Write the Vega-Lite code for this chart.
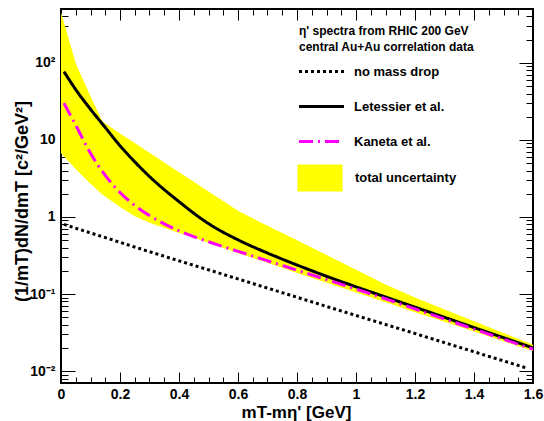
{
  "$schema": "https://vega.github.io/schema/vega-lite/v6.json",
  "width": 472,
  "height": 374,
  "autosize": {"type": "none"},
  "padding": {"left": 61, "top": 9, "right": 11, "bottom": 38},
  "background": "white",
  "config": {
    "font": "Liberation Sans",
    "view": {"stroke": "#000000", "strokeWidth": 2},
    "axis": {"grid": false, "domain": false, "tickColor": "#000000", "tickWidth": 1, "labelColor": "#000000", "titleColor": "#000000", "labelOverlap": false, "labelFlush": false, "labelBound": false}
  },
  "datasets": {
    "band": [
      {"x": 0, "hi": 450, "lo": 6.7, "s": "total uncertainty"},
      {"x": 0.05, "hi": 98, "lo": 4.2, "s": "total uncertainty"},
      {"x": 0.1, "hi": 37, "lo": 2.7, "s": "total uncertainty"},
      {"x": 0.14, "hi": 17.5, "lo": 1.95, "s": "total uncertainty"},
      {"x": 0.2, "hi": 12.1, "lo": 1.35, "s": "total uncertainty"},
      {"x": 0.25, "hi": 9.1, "lo": 1.02, "s": "total uncertainty"},
      {"x": 0.3, "hi": 6.8, "lo": 0.84, "s": "total uncertainty"},
      {"x": 0.35, "hi": 5.1, "lo": 0.72, "s": "total uncertainty"},
      {"x": 0.4, "hi": 3.8, "lo": 0.62, "s": "total uncertainty"},
      {"x": 0.45, "hi": 2.86, "lo": 0.54, "s": "total uncertainty"},
      {"x": 0.5, "hi": 2.14, "lo": 0.46, "s": "total uncertainty"},
      {"x": 0.6, "hi": 1.2, "lo": 0.34, "s": "total uncertainty"},
      {"x": 0.7, "hi": 0.77, "lo": 0.255, "s": "total uncertainty"},
      {"x": 0.8, "hi": 0.5, "lo": 0.188, "s": "total uncertainty"},
      {"x": 0.9, "hi": 0.32, "lo": 0.14, "s": "total uncertainty"},
      {"x": 1.0, "hi": 0.207, "lo": 0.105, "s": "total uncertainty"},
      {"x": 1.1, "hi": 0.133, "lo": 0.078, "s": "total uncertainty"},
      {"x": 1.2, "hi": 0.09, "lo": 0.058, "s": "total uncertainty"},
      {"x": 1.3, "hi": 0.063, "lo": 0.0435, "s": "total uncertainty"},
      {"x": 1.4, "hi": 0.0444, "lo": 0.0325, "s": "total uncertainty"},
      {"x": 1.5, "hi": 0.0313, "lo": 0.0243, "s": "total uncertainty"},
      {"x": 1.6, "hi": 0.022, "lo": 0.0182, "s": "total uncertainty"}
    ],
    "nomass": [
      {"x": 0.01, "y": 0.8, "s": "no mass drop"},
      {"x": 0.3, "y": 0.354, "s": "no mass drop"},
      {"x": 0.6, "y": 0.157, "s": "no mass drop"},
      {"x": 0.9, "y": 0.069, "s": "no mass drop"},
      {"x": 1.2, "y": 0.0307, "s": "no mass drop"},
      {"x": 1.58, "y": 0.0109, "s": "no mass drop"}
    ],
    "letessier": [
      {"x": 0.01, "y": 77, "s": "Letessier et al."},
      {"x": 0.05, "y": 45, "s": "Letessier et al."},
      {"x": 0.1, "y": 25, "s": "Letessier et al."},
      {"x": 0.15, "y": 14.5, "s": "Letessier et al."},
      {"x": 0.2, "y": 8.4, "s": "Letessier et al."},
      {"x": 0.25, "y": 5.2, "s": "Letessier et al."},
      {"x": 0.3, "y": 3.35, "s": "Letessier et al."},
      {"x": 0.4, "y": 1.58, "s": "Letessier et al."},
      {"x": 0.5, "y": 0.82, "s": "Letessier et al."},
      {"x": 0.6, "y": 0.505, "s": "Letessier et al."},
      {"x": 0.7, "y": 0.34, "s": "Letessier et al."},
      {"x": 0.8, "y": 0.238, "s": "Letessier et al."},
      {"x": 0.9, "y": 0.17, "s": "Letessier et al."},
      {"x": 1.0, "y": 0.124, "s": "Letessier et al."},
      {"x": 1.1, "y": 0.0915, "s": "Letessier et al."},
      {"x": 1.2, "y": 0.0675, "s": "Letessier et al."},
      {"x": 1.3, "y": 0.0498, "s": "Letessier et al."},
      {"x": 1.4, "y": 0.0367, "s": "Letessier et al."},
      {"x": 1.5, "y": 0.0271, "s": "Letessier et al."},
      {"x": 1.6, "y": 0.02, "s": "Letessier et al."}
    ],
    "kaneta": [
      {"x": 0.01, "y": 30, "s": "Kaneta et al."},
      {"x": 0.05, "y": 15.5, "s": "Kaneta et al."},
      {"x": 0.1, "y": 6.7, "s": "Kaneta et al."},
      {"x": 0.15, "y": 3.46, "s": "Kaneta et al."},
      {"x": 0.2, "y": 2.08, "s": "Kaneta et al."},
      {"x": 0.25, "y": 1.41, "s": "Kaneta et al."},
      {"x": 0.3, "y": 1.045, "s": "Kaneta et al."},
      {"x": 0.4, "y": 0.66, "s": "Kaneta et al."},
      {"x": 0.5, "y": 0.477, "s": "Kaneta et al."},
      {"x": 0.6, "y": 0.358, "s": "Kaneta et al."},
      {"x": 0.7, "y": 0.27, "s": "Kaneta et al."},
      {"x": 0.8, "y": 0.204, "s": "Kaneta et al."},
      {"x": 0.9, "y": 0.154, "s": "Kaneta et al."},
      {"x": 1.0, "y": 0.116, "s": "Kaneta et al."},
      {"x": 1.1, "y": 0.0865, "s": "Kaneta et al."},
      {"x": 1.2, "y": 0.064, "s": "Kaneta et al."},
      {"x": 1.3, "y": 0.0473, "s": "Kaneta et al."},
      {"x": 1.4, "y": 0.035, "s": "Kaneta et al."},
      {"x": 1.5, "y": 0.0259, "s": "Kaneta et al."},
      {"x": 1.6, "y": 0.0192, "s": "Kaneta et al."}
    ]
  },
  "resolve": {"axis": {"x": "independent", "y": "independent"}},
  "layer": [
    {
      "data": {"name": "band"},
      "mark": {"type": "area", "opacity": 1},
      "encoding": {
        "x": {
          "field": "x", "type": "quantitative",
          "scale": {"domain": [0, 1.6], "nice": false, "zero": false},
          "axis": {
            "orient": "bottom",
            "values": [0, 0.2, 0.4, 0.6, 0.8, 1, 1.2, 1.4, 1.6],
            "offset": -11,
            "tickSize": 11,
            "labelExpr": "'' + datum.value",
            "labelPadding": 4,
            "labelFontSize": 14,
            "labelFontWeight": "bold",
            "title": "mT-mη' [GeV]",
            "titleFontSize": 17,
            "titleFontWeight": "bold",
            "titleX": 235,
            "titleY": 45,
            "titleBaseline": "alphabetic"
          }
        },
        "y": {
          "field": "hi", "type": "quantitative",
          "scale": {"type": "log", "domain": [0.007, 500], "nice": false},
          "axis": {
            "orient": "left",
            "values": [0.01, 0.1, 1, 10, 100],
            "offset": -14,
            "tickSize": 14,
            "labelExpr": "datum.value == 0.01 ? '10⁻²' : datum.value == 0.1 ? '10⁻¹' : datum.value == 1 ? '1' : datum.value == 10 ? '10' : '10²'",
            "labelPadding": 6,
            "labelFontSize": 14,
            "labelFontWeight": "bold",
            "title": "(1/mT)dN/dmT [c²/GeV²]",
            "titleFontSize": 18,
            "titleFontWeight": "bold",
            "titleX": -53,
            "titleY": 192,
            "titleBaseline": "middle"
          }
        },
        "y2": {"field": "lo"},
        "fill": {
          "field": "s", "type": "nominal",
          "scale": {"domain": ["total uncertainty"], "range": ["#ffff00"]},
          "legend": {
            "orient": "none",
            "legendX": 238,
            "legendY": 159,
            "title": null,
            "labelFontSize": 13,
            "labelFontWeight": "bold",
            "labelColor": "#000000",
            "labelOffset": 25,
            "symbolType": "M-2.25,-1.35H2.25V1.35H-2.25Z",
            "symbolSize": 400,
            "symbolOffset": 11,
            "symbolStrokeWidth": 0,
            "symbolOpacity": 1
          }
        }
      }
    },
    {
      "data": {"name": "nomass"},
      "mark": {"type": "line", "strokeWidth": 3},
      "encoding": {
        "x": {
          "field": "x", "type": "quantitative",
          "axis": {
            "orient": "bottom",
            "values": [0.05, 0.1, 0.15, 0.25, 0.3, 0.35, 0.45, 0.5, 0.55, 0.65, 0.7, 0.75, 0.85, 0.9, 0.95, 1.05, 1.1, 1.15, 1.25, 1.3, 1.35, 1.45, 1.5, 1.55],
            "offset": -6,
            "tickSize": 6,
            "labels": false,
            "title": null
          }
        },
        "y": {
          "field": "y", "type": "quantitative",
          "axis": {
            "orient": "left",
            "values": [0.007, 0.008, 0.009, 0.02, 0.03, 0.04, 0.05, 0.06, 0.07, 0.08, 0.09, 0.2, 0.3, 0.4, 0.5, 0.6, 0.7, 0.8, 0.9, 2, 3, 4, 5, 6, 7, 8, 9, 20, 30, 40, 50, 60, 70, 80, 90, 200, 300, 400],
            "offset": -7,
            "tickSize": 7,
            "labels": false,
            "title": null
          }
        },
        "stroke": {
          "field": "s", "type": "nominal",
          "scale": {"domain": ["no mass drop", "Letessier et al.", "Kaneta et al."], "range": ["#000000", "#000000", "#ff00ff"]},
          "legend": {
            "orient": "none",
            "legendX": 238,
            "legendY": 17,
            "title": ["η' spectra from RHIC 200 GeV", "central Au+Au correlation data"],
            "titleFontSize": 12,
            "titleFontWeight": "bold",
            "titleColor": "#000000",
            "titleLineHeight": 16,
            "titlePadding": 6,
            "titleBaseline": "top",
            "labelFontSize": 13,
            "labelFontWeight": "bold",
            "labelColor": "#000000",
            "labelOffset": 21,
            "symbolType": "M-2.25,0H2.25",
            "symbolSize": 400,
            "symbolOffset": 11,
            "symbolStrokeWidth": 3,
            "symbolOpacity": 1,
            "rowPadding": 16
          }
        },
        "strokeDash": {
          "field": "s", "type": "nominal",
          "scale": {"domain": ["no mass drop", "Letessier et al.", "Kaneta et al."], "range": [[3, 3], [1, 0], [14, 5, 2, 5]]}
        }
      }
    },
    {
      "data": {"name": "letessier"},
      "mark": {"type": "line", "strokeWidth": 3, "interpolate": "monotone"},
      "encoding": {
        "x": {
          "field": "x", "type": "quantitative",
          "axis": {
            "orient": "top",
            "values": [0, 0.2, 0.4, 0.6, 0.8, 1, 1.2, 1.4, 1.6],
            "offset": -11,
            "tickSize": 11,
            "labels": false,
            "title": null
          }
        },
        "y": {
          "field": "y", "type": "quantitative",
          "axis": {
            "orient": "right",
            "values": [0.01, 0.1, 1, 10, 100],
            "offset": -14,
            "tickSize": 14,
            "labels": false,
            "title": null
          }
        },
        "stroke": {"field": "s", "type": "nominal"},
        "strokeDash": {"field": "s", "type": "nominal"}
      }
    },
    {
      "data": {"name": "kaneta"},
      "mark": {"type": "line", "strokeWidth": 3, "interpolate": "monotone"},
      "encoding": {
        "x": {
          "field": "x", "type": "quantitative",
          "axis": {
            "orient": "top",
            "values": [0.05, 0.1, 0.15, 0.25, 0.3, 0.35, 0.45, 0.5, 0.55, 0.65, 0.7, 0.75, 0.85, 0.9, 0.95, 1.05, 1.1, 1.15, 1.25, 1.3, 1.35, 1.45, 1.5, 1.55],
            "offset": -6,
            "tickSize": 6,
            "labels": false,
            "title": null
          }
        },
        "y": {
          "field": "y", "type": "quantitative",
          "axis": {
            "orient": "right",
            "values": [0.007, 0.008, 0.009, 0.02, 0.03, 0.04, 0.05, 0.06, 0.07, 0.08, 0.09, 0.2, 0.3, 0.4, 0.5, 0.6, 0.7, 0.8, 0.9, 2, 3, 4, 5, 6, 7, 8, 9, 20, 30, 40, 50, 60, 70, 80, 90, 200, 300, 400],
            "offset": -7,
            "tickSize": 7,
            "labels": false,
            "title": null
          }
        },
        "stroke": {"field": "s", "type": "nominal"},
        "strokeDash": {"field": "s", "type": "nominal"}
      }
    }
  ]
}
